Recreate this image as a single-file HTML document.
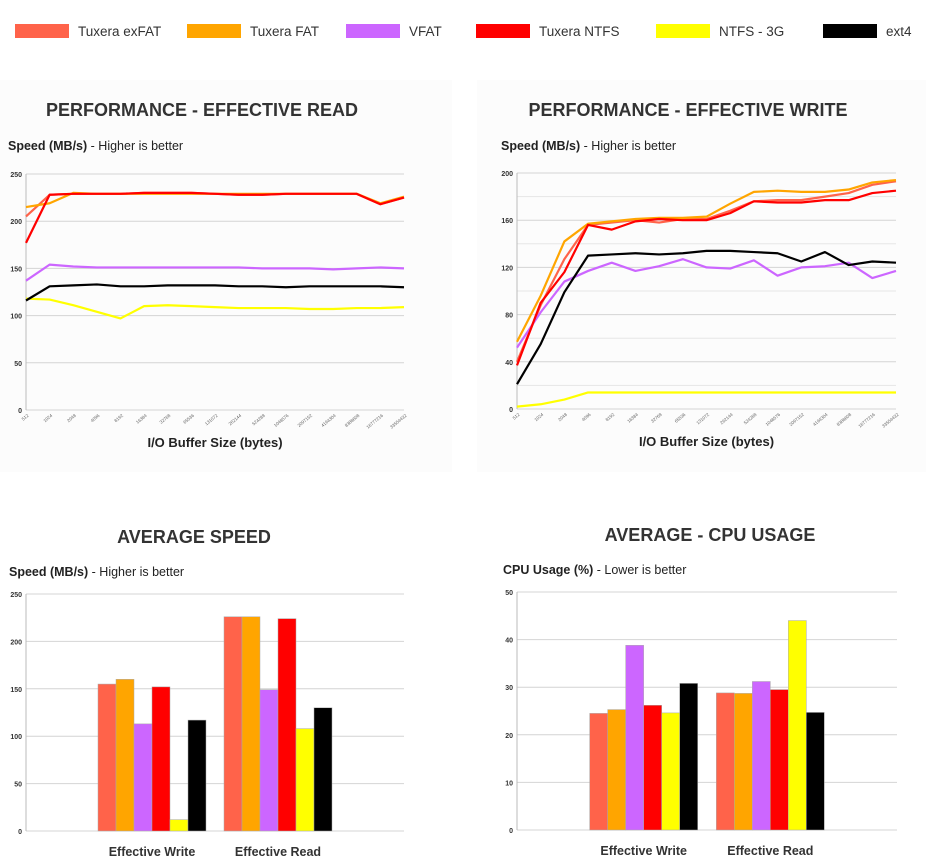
<!DOCTYPE html>
<html><head><meta charset="utf-8"><style>
body{margin:0;background:#fff;}
svg{display:block;font-family:"Liberation Sans",sans-serif;}
</style></head><body>
<svg id="c" width="926" height="865" viewBox="0 0 926 865">
<rect x="0" y="80" width="452" height="392" fill="#fcfcfc"/>
<rect x="477" y="80" width="449" height="392" fill="#fcfcfc"/>
<g id="legend"></g>
<g id="g1"></g>
<g id="g2"></g>
<g id="g3"></g>
<g id="g4"></g>
</svg>
<script>
const seriesNames=["Tuxera exFAT","Tuxera FAT","VFAT","Tuxera NTFS","NTFS - 3G","ext4"];
const seriesColors=["#ff634a","#ffa500","#cc66ff","#ff0000","#ffff00","#000000"];
const bufferSizes=["512","1024","2048","4096","8192","16384","32768","65536","131072","262144","524288","1048576","2097152","4194304","8388608","16777216","33554432"];
const readExfat=[205,228,229,229,229,230,230,230,229,228,228,229,229,229,229,218,225];
const readFat=[215,219,230,229,229,229,229,229,229,229,229,229,229,229,229,219,226];
const readVfat=[137,154,152,151,151,151,151,151,151,151,150,150,150,149,150,151,150];
const readNtfs=[177,228,229,229,229,230,230,230,229,228,228,229,229,229,229,218,225];
const read3g=[118,117,111,104,97,110,111,110,109,108,108,108,107,107,108,108,109];
const readExt4=[116,131,132,133,131,131,132,132,132,131,131,130,131,131,131,131,130];
const writeExfat=[40,88,127,156,158,160,158,161,161,168,176,177,177,180,183,190,193];
const writeFat=[57,96,142,157,159,161,162,162,163,174,184,185,184,184,186,192,194];
const writeVfat=[52,82,108,117,124,117,121,127,120,119,126,113,120,121,124,111,117];
const writeNtfs=[37,90,116,156,152,159,161,160,160,166,176,175,175,177,177,183,185];
const write3g=[2,4,8,14,14,14,14,14,14,14,14,14,14,14,14,14,14];
const writeExt4=[21,55,99,130,131,132,131,132,134,134,133,132,125,133,122,125,124];
const barCategories=["Effective Write","Effective Read"];
const speedWrite=[155,160,113,152,12,117];
const speedRead=[226,226,149,224,108,130];
const cpuWrite=[24.5,25.3,38.8,26.2,24.6,30.8];
const cpuRead=[28.8,28.7,31.2,29.5,44,24.7];
const readTicks=[0,50,100,150,200,250];
const writeTicks=[0,40,80,120,160,200];
const speedTicks=[0,50,100,150,200,250];
const cpuTicks=[0,10,20,30,40,50];

const NS="http://www.w3.org/2000/svg";
function mk(parent,tag,attrs,text){const e=document.createElementNS(NS,tag);for(const k in attrs)e.setAttribute(k,attrs[k]);if(text!==undefined)e.textContent=text;parent.appendChild(e);return e;}

const lg=document.getElementById('legend');
const legX=[15,187,346,476,656,823];
seriesNames.forEach((n,i)=>{
  const r=mk(lg,'rect',{x:legX[i],y:24,width:54,height:14,fill:seriesColors[i]});
  
  
  const t=mk(lg,'text',{x:legX[i]+63,y:36,'font-size':13.5,fill:'#333'},n);
  
  
});

function header(g,title,tx,ty,subB,subR,sx,sy){
  const t=mk(g,'text',{x:tx,y:ty,'font-size':18,'font-weight':'bold',fill:'#333','text-anchor':'middle'},title);
  
  
  const s=mk(g,'text',{x:sx,y:sy,'font-size':12.5,fill:'#222'});
  
  
  mk(s,'tspan',{'font-weight':'bold'},subB);
  mk(s,'tspan',{},subR);
}
function yAxis(g,x0,x1,y0,y1,max,ticks,minor){
  const sy=v=>y0-(v/max)*(y0-y1);
  if(minor){for(let v=minor;v<max;v+=minor*2){const l=mk(g,'line',{x1:x0,x2:x1,y1:sy(v),y2:sy(v),stroke:'#e6e6e6','stroke-width':1});}}
  ticks.forEach(v=>{
    const l=mk(g,'line',{x1:x0,x2:x1,y1:sy(v),y2:sy(v),stroke:'#d4d4d4','stroke-width':1});
    
    
    const t=mk(g,'text',{x:x0-4,y:sy(v)+3,'font-size':7,'font-weight':'bold','text-anchor':'end',fill:'#333'},v);
    
    
  });
  const a=mk(g,'line',{x1:x0,x2:x0,y1:y1,y2:y0,stroke:'#bbb','stroke-width':1});
  
  
  return sy;
}
function lineChart(g,x0,x1,y0,y1,max,ticks,minor,data){
  const sy=yAxis(g,x0,x1,y0,y1,max,ticks,minor);
  const sx=i=>x0+i*(x1-x0)/(bufferSizes.length-1);
  bufferSizes.forEach((b,i)=>{
    const t=mk(g,'text',{x:sx(i)+3,y:y0+6,'font-size':4.5,fill:'#666','text-anchor':'end',transform:`rotate(-40 ${sx(i)+3} ${y0+6})`},b);
    
    
  });
  [4,0,2,5,1,3].forEach(k=>{
    const arr=data[k];
    const p=mk(g,'polyline',{points:arr.map((v,i)=>sx(i)+','+sy(v)).join(' '),fill:'none',stroke:seriesColors[k],'stroke-width':2.2,'stroke-linejoin':'round'});
    
    
  });
  const t=mk(g,'text',{x:(x0+x1)/2,y:y0+37,'font-size':13,'font-weight':'bold','text-anchor':'middle',fill:'#222'},'I/O Buffer Size (bytes)');
  
  
}
function barChart(g,x0,x1,y0,y1,max,ticks,groups){
  const sy=yAxis(g,x0,x1,y0,y1,max,ticks,0);
  const bw=18;
  groups.forEach((vals,gi)=>{
    const cx=x0+(gi+1)*(x1-x0)/3;
    vals.forEach((v,k)=>{
      const r=mk(g,'rect',{x:cx-3*bw+k*bw,y:sy(v),width:bw,height:y0-sy(v),fill:seriesColors[k],stroke:'#aaa','stroke-width':0.5});
      
      
    });
    const t=mk(g,'text',{x:cx,y:y0+25,'font-size':12.5,'font-weight':'bold','text-anchor':'middle',fill:'#333'},barCategories[gi]);
    
    
  });
}
const g1=document.getElementById('g1'),g2=document.getElementById('g2'),g3=document.getElementById('g3'),g4=document.getElementById('g4');
header(g1,'PERFORMANCE - EFFECTIVE READ',202,116,'Speed (MB/s)',' - Higher is better',8,150);
lineChart(g1,26,404,410,174,250,readTicks,0,[readExfat,readFat,readVfat,readNtfs,read3g,readExt4]);
header(g2,'PERFORMANCE - EFFECTIVE WRITE',688,116,'Speed (MB/s)',' - Higher is better',501,150);
lineChart(g2,517,896,409,173,200,writeTicks,20,[writeExfat,writeFat,writeVfat,writeNtfs,write3g,writeExt4]);
header(g3,'AVERAGE SPEED',194,543,'Speed (MB/s)',' - Higher is better',9,576);
barChart(g3,26,404,831,594,250,speedTicks,[speedWrite,speedRead]);
header(g4,'AVERAGE - CPU USAGE',710,541,'CPU Usage (%)',' - Lower is better',503,574);
barChart(g4,517,897,830,592,50,cpuTicks,[cpuWrite,cpuRead]);
</script>
</body></html>
